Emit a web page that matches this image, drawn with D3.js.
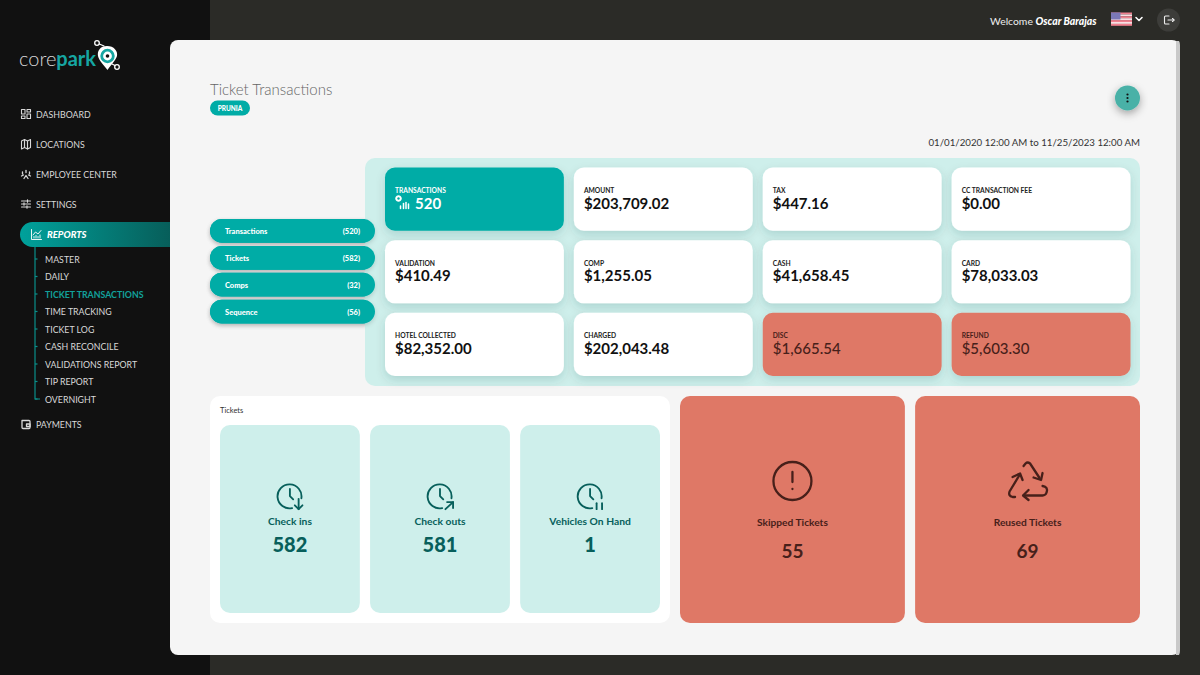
<!DOCTYPE html>
<html><head><meta charset="utf-8">
<script src="https://cdnjs.cloudflare.com/ajax/libs/d3/7.8.5/d3.min.js"></script>
<style>html,body{margin:0;padding:0;background:#2b2b27;overflow:hidden}svg{display:block;font-family:Lato,"Open Sans",sans-serif}</style>
</head><body><div id="c"></div>
<script>
const navTop = ["DASHBOARD","LOCATIONS","EMPLOYEE CENTER","SETTINGS"];
const navSub = ["MASTER","DAILY","TICKET TRANSACTIONS","TIME TRACKING","TICKET LOG","CASH RECONCILE","VALIDATIONS REPORT","TIP REPORT","OVERNIGHT"];
const pillLabels = ["Transactions","Tickets","Comps","Sequence"];
const pillCounts = [520,582,32,56];
const cardLabels = ["TRANSACTIONS","AMOUNT","TAX","CC TRANSACTION FEE","VALIDATION","COMP","CASH","CARD","HOTEL COLLECTED","CHARGED","DISC","REFUND"];
const cardValues = [520,203709.02,447.16,0,410.49,1255.05,41658.45,78033.03,82352,202043.48,1665.54,5603.30];
const ticketLabels = ["Check ins","Check outs","Vehicles On Hand"];
const ticketValues = [582,581,1];
const alertLabels = ["Skipped Tickets","Reused Tickets"];
const alertValues = [55,69];

const TEAL="#00aca6", MINT="#ceefeb", SALMON="#df7866", DTEAL="#075f5b", DRED="#47201a";
const svg=d3.select("#c").append("svg").attr("width",1200).attr("height",675);
const defs=svg.append("defs");
function shadow(id,dy,sd,op,col){const f=defs.append("filter").attr("id",id).attr("x","-30%").attr("y","-40%").attr("width","160%").attr("height","200%");
 f.append("feDropShadow").attr("dx",0).attr("dy",dy).attr("stdDeviation",sd).attr("flood-color",col||"#000").attr("flood-opacity",op);}
shadow("cs",4,5,.16,"#0a4a47");shadow("ps",2,2,.15);shadow("bs",3,4,.35);
const gr=defs.append("linearGradient").attr("id","rep");
gr.append("stop").attr("offset","0").attr("stop-color","#00a19b");gr.append("stop").attr("offset","1").attr("stop-color","#075e5a");

function rect(p,x,y,w,h,r,fill){return p.append("rect").attr("x",x).attr("y",y).attr("width",w).attr("height",h).attr("rx",r).attr("fill",fill);}
function text(p,s,x,y,size,fill,o={}){return p.append("text").text(s).attr("x",x).attr("y",y).attr("font-size",size).attr("fill",fill)
 .attr("font-weight",o.w||400).attr("font-style",o.i||null).attr("text-anchor",o.a||"start").attr("dominant-baseline","central");}
function icon(p,x,y,s,col,sw,paths){const g=p.append("g").attr("transform",`translate(${x},${y}) scale(${s})`).attr("fill","none").attr("stroke",col).attr("stroke-width",sw).attr("stroke-linecap","round").attr("stroke-linejoin","round");
 paths.forEach(d=>g.append("path").attr("d",d));return g;}

// backgrounds
rect(svg,0,0,1200,675,0,"#2b2b27");
rect(svg,0,0,210,675,0,"#111111");
rect(svg,170,40,1010,615,8,"#f5f5f5");
svg.append("path").attr("d","M1176 41H1179Q1180 42 1180 46V650Q1180 654 1179 655H1176Z").attr("fill","#c9c9c9");

// top bar
const wel=text(svg,"Welcome ",990,20.5,10.4,"#eeeeee");
wel.append("tspan").text("Oscar Barajas").attr("font-weight",900).attr("font-style","italic").attr("fill","#fff");
const flag=svg.append("g");
d3.range(7).forEach(i=>rect(flag,1111,12.5+i*1.9,21,1.9,0,i%2?"#fbdfe3":"#f0808f"));
rect(flag,1111,12.5,9.5,7,0,"#7a78b8");
icon(svg,1135,16,1,"#fff",1.6,["M1 1.5L4 4.5L7 1.5"]);
svg.append("circle").attr("cx",1168.5).attr("cy",20).attr("r",11.5).attr("fill","#3d3d3a");
icon(svg,1163,14,1,"#eee",1.1,["M6 2H2.5a1 1 0 0 0-1 1V9a1 1 0 0 0 1 1H6","M5 6H11","M9.5 4.5L11 6L9.5 7.5"]);

// logo
const logo=text(svg,"core",19,57.5,20,"#d8d8d8",{w:300});
logo.append("tspan").text("park").attr("font-weight",700).attr("fill","#16a6a2");
const pin=svg.append("g");
pin.append("path").attr("d","M107 46c-7 0-10 5-9 10c1 5 6 9 9.500 14c3-5 8-9 9.500-14c1-5-3-10-10-10Z").attr("fill","#fff");
pin.append("circle").attr("cx",107.500).attr("cy",56).attr("r",5.800).attr("fill","none").attr("stroke","#16a6a2").attr("stroke-width",2.800);
pin.append("circle").attr("cx",107.500).attr("cy",56).attr("r",1.800).attr("fill","#111");
icon(pin,0,0,1,"#fff",1.200,["M97 43L104 46","M112 64L116 66"]);
[[97,43],[117,67]].forEach(c=>pin.append("circle").attr("cx",c[0]).attr("cy",c[1]).attr("r",2.300).attr("fill","#111").attr("stroke","#fff").attr("stroke-width",1.300));

// navigation
const NAV=8.8;
const navTopY=d3.scalePoint().domain(navTop).range([114,204]);
navTop.forEach(n=>text(svg,n,36,navTopY(n),NAV,"#d9d9d9"));
const I="#d9d9d9";
icon(svg,21,109,1,I,1.100,["M.5 .5h3.500v4.500h-3.500Z","M6 .5h3.500v2.500h-3.500Z","M.5 7h3.500v2.500h-3.500Z","M6 5h3.500v4.500h-3.500Z"]);
icon(svg,21,139,1,I,1.100,["M.5 2l3-1.500v8l-3 1.500Z","M3.500 .5l3 1.500v8l-3-1.500Z","M6.500 2l3-1.500v8l-3 1.500Z"]);
icon(svg,21,169,1,I,1.300,["M5 1.500v2","M1.500 3v2","M8.500 3v2","M3 9.500l2-3l2 3","M.5 7l2-1","M9.500 7l-2-1"]);
icon(svg,21,199,1,I,1.100,["M.5 2h9","M.5 5h9","M.5 8h9","M6.500 .8v2.400","M3 3.800v2.400","M6 6.800v2.400"]);
icon(svg,21,419,1,I,1.300,["M1 1.500h7a1 1 0 0 1 1 1v6a1 1 0 0 1-1 1h-6a1 1 0 0 1-1-1Z","M5.500 5h3.500v2.500h-3.500Z"]);
text(svg,"PAYMENTS",36,424,NAV,"#d9d9d9");

// reports pill
svg.append("path").attr("d","M170 222H32.500a12.500 12.500 0 0 0 0 25H170Z").attr("fill","url(#rep)");
text(svg,"REPORTS",47,234,9.500,"#fff",{w:900,i:"italic"});
icon(svg,31,229,1,"#fff",.9,["M.5 .5v10h10","M2 6L4.500 3L7 5L10 1.500","M3 9v-1.500","M5 9v-2.500","M7 9v-1.500","M9 9v-3"]);

const subY=d3.scalePoint().domain(navSub).range([259,399]);
svg.append("path").attr("d",`M35 247V${subY("OVERNIGHT")}H40`).attr("fill","none").attr("stroke","#0a8f8a").attr("stroke-width",1.200);
navSub.forEach(n=>{
 const active=n==="TICKET TRANSACTIONS";
 svg.append("line").attr("x1",35).attr("x2",37.500).attr("y1",subY(n)).attr("y2",subY(n)).attr("stroke","#0a8f8a").attr("stroke-width",1.200);
 text(svg,n,45,subY(n),NAV,active?"#12a19c":"#d9d9d9",{w:active?700:400});
});

// title
text(svg,"Ticket Transactions",210,89,15,"#666666",{w:300});
rect(svg,210,100.500,40,15,7.500,TEAL);
text(svg,"PRUNIA",230,108.500,6.500,"#fff",{w:900,a:"middle"});
svg.append("circle").attr("cx",1127.500).attr("cy",98).attr("r",12.500).attr("fill","#48b1a7").attr("filter","url(#bs)");
[-3.500,0,3.500].forEach(d=>svg.append("circle").attr("cx",1127.500).attr("cy",98+d).attr("r",1.100).attr("fill","#111"));
text(svg,"01/01/2020 12:00 AM to 11/25/2023 12:00 AM",1140,142,9.700,"#333",{a:"end"});

// pills
const pillY=d3.scaleBand().domain(pillLabels).range([219,323.500]).paddingInner(.115);
pillLabels.forEach((n,i)=>{
 const y=pillY(n),h=pillY.bandwidth();
 rect(svg,210,y,165,h,h/2,TEAL).attr("filter","url(#ps)");
});

// summary panel
rect(svg,365,158,775,228,10,MINT);
pillLabels.forEach((n,i)=>{
 const y=pillY(n),h=pillY.bandwidth();
 rect(svg,210,y,165,h,h/2,TEAL).attr("filter","url(#ps)");
 text(svg,n,225,y+h/2+.5,7.500,"#fff",{w:900});
 text(svg,`(${pillCounts[i]})`,360,y+h/2+.5,7.500,"#fff",{w:900,a:"end"});
});

const col=d3.scaleBand().domain(d3.range(4)).range([385,1130.500]).paddingInner(.053);
const row=d3.scaleBand().domain(d3.range(3)).range([167.500,376]).paddingInner(.13);
const money=d3.format("$,.2f");
cardLabels.forEach((n,i)=>{
 const c=i%4,r=Math.floor(i/4),x=col(c),y=row(r);
 const red=n==="DISC"||n==="REFUND",first=i===0;
 rect(svg,x,y,col.bandwidth(),row.bandwidth(),10,first?TEAL:red?SALMON:"#fff").attr("filter","url(#cs)");
 const fg=first?"#fff":red?DRED:"#111";
 text(svg,n,x+10,y+22.500,6.700,first?"#fff":red?DRED:"#222",{w:700});
 if(first){
  text(svg,d3.format(",")(cardValues[i]),x+30,y+35,15,"#fff",{w:700});
  icon(svg,x,y,1,"#fff",1.500,["M15.500 38.500v2.500","M18.500 36v5","M21 35v6","M23.500 36.500v4.500"]);
  svg.append("circle").attr("cx",x+13.500).attr("cy",y+31).attr("r",2.800).attr("fill","#fff").attr("stroke","#fff").attr("stroke-width",1);
  svg.append("circle").attr("cx",x+13.500).attr("cy",y+31).attr("r",1.200).attr("fill",TEAL);
 } else text(svg,money(cardValues[i]),x+10,y+35,15,fg,{w:red?500:700});
});

// tickets panel
rect(svg,210,396,460,227,10,"#fff");
text(svg,"Tickets",220,410.500,7.500,"#333");
const tx=d3.scaleBand().domain(ticketLabels).range([220,660]).paddingInner(.0682);
const clock=["M21.500 14A11 11 0 1 0 13 23","M11 5.500V12L14 15"];
const extra=[["M19 14.500V24","M15.500 20.500L19 24L22.500 20.500"],["M16 24L23 17.500","M17.500 17.500H23V23"],["M17 18.500V24","M22 18.500V24"]];
ticketLabels.forEach((n,i)=>{
 const x=tx(n),w=tx.bandwidth(),cx=x+w/2;
 rect(svg,x,425,w,188,10,MINT);
 icon(svg,cx-12,483,1.090,DTEAL,1.700,clock.concat(extra[i]));
 text(svg,n,cx,520.800,10.300,DTEAL,{w:700,a:"middle"});
 text(svg,ticketValues[i],cx,544.200,20,DTEAL,{w:900,a:"middle"});
});

// alerts
const ax=d3.scaleBand().domain(alertLabels).range([680,1140]).paddingInner(.0435);
alertLabels.forEach((n,i)=>{
 const x=ax(n),w=ax.bandwidth(),cx=x+w/2;
 rect(svg,x,396,w,227,10,SALMON);
 text(svg,n,cx,522,10.200,DRED,{w:700,a:"middle"});
 text(svg,alertValues[i],cx,550.500,19,DRED,{w:700,a:"middle"});
});
const c0=ax(alertLabels[0])+ax.bandwidth()/2, c1=ax(alertLabels[1])+ax.bandwidth()/2;
svg.append("circle").attr("cx",c0).attr("cy",481).attr("r",19).attr("fill","none").attr("stroke",DRED).attr("stroke-width",2.300);
icon(svg,c0,481,1,DRED,2.300,["M0 -9V1","M0 8V8.100"]);
icon(svg,c1-20,461,1,DRED,2.300,[
 "M16 5L18 2.500Q20 .5 22.500 2.500L32 17","M26 16.500L33.500 19L35 12",
 "M35 25Q41 26 39 31.500Q38 34.500 35 34.500H16","M21 29L15.500 34.500L21 39",
 "M7.500 36H5Q.5 35 2 30.500L12 14","M5 16L12.500 12.500L15 19"]);
</script></body></html>
